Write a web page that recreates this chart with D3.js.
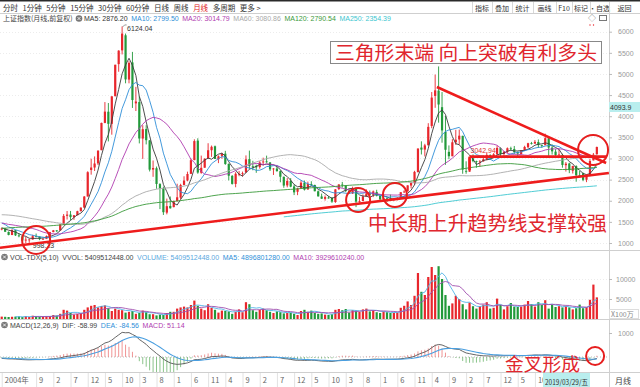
<!DOCTYPE html>
<html>
<head>
<meta charset="utf-8">
<script src="https://cdn.jsdelivr.net/npm/d3@7/dist/d3.min.js"></script>
<style>
  body { margin: 0; background: #fff; }
  svg { display: block; }
  text { font-family: 'Liberation Sans', 'Noto Sans CJK SC', sans-serif; }
  .cjk { font-family: 'Noto Sans CJK SC', sans-serif; }
</style>
</head>
<body>
<div id="chart"></div>
<script>
// monthly closes before the visible window (1990-12 .. 2004-10), only used for the averages
var histClose = [128,
  130,134,120,114,115,138,144,180,180,219,260,293,
  313,365,370,445,1266,1136,1070,823,679,508,750,780,
  1083,1359,926,1358,934,1007,880,882,919,897,921,834,
  770,793,646,556,613,456,334,754,804,595,668,648,
  563,549,643,582,701,631,712,736,793,717,690,555,
  537,537,543,682,644,804,839,797,881,957,1020,917,
  914,1008,1064,1330,1235,1201,1181,1171,1097,1192,1133,1194,
  1223,1207,1243,1343,1411,1339,1321,1151,1243,1217,1247,1147,
  1135,1090,1158,1120,1279,1689,1601,1627,1507,1446,1395,1367,
  1535,1715,1800,1836,1895,1928,2023,2022,1910,1961,2071,2073,
  2066,1959,2113,2119,2214,2218,1920,1834,1724,1690,1748,1646,
  1492,1525,1604,1668,1516,1733,1652,1669,1582,1504,1442,1358,
  1500,1512,1510,1521,1576,1487,1477,1421,1367,1348,1397,1497,
  1591,1675,1742,1596,1556,1399,1386,1342,1397,1321];

// visible window: 2004-11 .. 2019-04
var startYear = 2004, startMonth = 11;
var opens = [1320,1340,
  1261,1189,1304,1180,1158,1059,1079,1083,1163,1153,1091,1099,
  1163,1259,1299,1296,1442,1643,1673,1612,1658,1752,1839,2100,
  2728,2786,2884,3196,3842,4107,3820,4475,5233,5559,5915,4868,
  5273,4304,4335,3472,3696,3428,2738,2769,2394,2294,1719,1876,
  1849,1991,2074,2374,2480,2637,2961,3423,2663,2782,2999,3195,
  3289,2983,3061,3114,2873,2588,2398,2637,2640,2671,2985,2816,
  2825,2796,2908,2932,2907,2743,2762,2700,2567,2363,2470,2339,
  2212,2287,2427,2268,2397,2373,2224,2101,2045,2074,2071,1970,
  2276,2382,2362,2236,2172,2302,1977,1992,2098,2175,2141,2205,
  2112,2044,2057,2033,2021,2040,2051,2202,2220,2359,2424,2677,
  3258,3211,3314,3770,4480,4607,4214,3630,3157,3053,3383,3450,
  3536,2706,2688,3003,2938,2917,2932,2977,3082,3018,3099,3245,
  3105,3159,3240,3225,3155,3106,3193,3266,3363,3352,3390,3315,
  3314,3478,3257,3162,3083,3084,2841,2882,2710,2819,2600,2647,
  2497,2587,2955,3100];
var highs = [1363,1353,
  1274,1329,1313,1232,1160,1146,1099,1194,1223,1156,1109,1180,
  1262,1308,1305,1446,1685,1757,1758,1658,1763,1843,2112,2698,
  2994,3049,3197,3848,4335,4312,4471,5218,5562,6124,5956,5303,
  5522,4695,4472,3786,3786,3435,2952,2809,2416,2334,2051,2100,
  2003,2402,2402,2579,2688,3000,3454,3478,3068,3000,3361,3306,
  3306,3073,3135,3181,2880,2608,2676,2705,2690,3073,3186,2945,
  2854,2937,3019,3067,2911,2772,2826,2717,2572,2536,2536,2387,
  2302,2479,2478,2453,2461,2380,2243,2169,2125,2109,2081,2276,
  2392,2445,2363,2280,2334,2314,2092,2149,2270,2243,2242,2260,
  2118,2177,2075,2146,2061,2087,2202,2248,2366,2449,2708,3239,
  3406,3347,3835,4572,4986,5178,4572,4006,3309,3458,3679,3684,
  3538,2933,3019,3098,2948,2962,3070,3140,3100,3127,3301,3265,
  3175,3261,3279,3296,3164,3200,3301,3371,3392,3436,3450,3322,
  3587,3495,3334,3220,3219,3111,2915,2897,2827,2838,2703,2667,
  2619,2996,3130,3282];
var lows = [1301,1259,
  1181,1186,1165,1135,1043,998,1004,1079,1132,1067,1074,1093,
  1163,1253,1257,1294,1431,1556,1541,1548,1654,1749,1826,2100,
  2617,2704,2845,3196,3834,3404,3563,4469,5052,5462,4779,4778,
  4196,4123,3357,2990,3333,2693,2566,2284,1802,1664,1678,1814,
  1844,1990,2037,2367,2460,2631,2960,2639,2639,2779,2997,3039,
  2987,2890,2994,2849,2481,2382,2319,2580,2573,2661,2754,2721,
  2661,2758,2836,2897,2703,2610,2688,2437,2307,2318,2319,2134,
  2132,2290,2242,2258,2344,2223,2100,2046,2003,2050,1950,1949,
  2253,2311,2203,2162,2162,1849,1951,1994,2097,2124,2086,2102,
  1985,2029,1974,1997,1991,2010,2044,2186,2217,2293,2378,2671,
  3095,3049,3307,3716,4199,3848,3373,2850,2983,3053,3322,3328,
  2638,2639,2685,2911,2781,2807,2925,2961,2968,3009,3085,3056,
  3044,3125,3183,3107,3016,3092,3176,3243,3330,3348,3251,3254,
  3315,3062,3092,3041,3041,2782,2691,2653,2644,2449,2565,2463,
  2440,2580,2954,3090];
var closes = [1341,1266,
  1191,1306,1181,1159,1060,1080,1083,1162,1155,1092,1099,1161,
  1258,1299,1298,1440,1641,1672,1612,1658,1752,1837,2099,2675,
  2786,2881,3183,3841,4109,3820,4471,5218,5552,5955,4871,5262,
  4383,4348,3473,3693,3433,2736,2775,2397,2293,1729,1871,1821,
  1991,2082,2373,2477,2633,2959,3412,2667,2779,2996,3195,3277,
  2989,3051,3110,2870,2592,2398,2638,2638,2656,2979,2820,2808,
  2791,2905,2928,2911,2743,2762,2701,2568,2359,2468,2333,2199,
  2292,2428,2262,2396,2373,2225,2103,2047,2086,2069,1980,2269,
  2385,2365,2236,2177,2301,1979,1994,2098,2175,2141,2220,2116,
  2033,2056,2033,2026,2039,2048,2202,2217,2364,2420,2683,3235,
  3210,3310,3748,4441,4612,4277,3664,3206,3053,3383,3445,3539,
  2738,2688,3004,2938,2917,2930,2979,3085,3005,3100,3250,3104,
  3159,3242,3223,3155,3117,3192,3273,3361,3349,3393,3317,3307,
  3481,3259,3169,3082,3095,2847,2876,2725,2821,2603,2588,2494,
  2585,2941,3091,3271];
// x100万
var volumes = [600,550,
  500,560,600,640,480,700,520,820,680,540,500,700,
  750,1000,850,1300,2300,2100,1500,1100,1250,1400,2300,2900,
  3300,3500,2900,3250,3400,2700,2000,2600,2300,2200,1600,1800,
  2000,1300,1500,2100,1700,1200,1200,900,1100,1000,1500,1800,
  1800,2600,2900,3100,2900,3500,4600,3300,2600,2200,3700,2800,
  2300,1600,2100,2000,1900,1300,1800,2400,1700,4200,3700,2200,
  1800,2300,2600,2200,1800,1500,1900,1700,1400,1500,1600,1300,
  1000,2000,2300,1800,2100,1500,1300,1400,1100,1000,1200,2300,
  2500,2200,2500,1600,2200,2100,1800,2400,2600,1900,2200,1700,
  1500,1900,1700,1500,1500,1600,2800,3300,4400,3500,5800,11500,
  6800,6000,10500,13000,11000,13200,10000,6000,3300,3900,5800,5000,
  3700,2400,4100,3200,2600,3200,3600,4200,2600,2800,5100,3500,
  2400,3200,4000,3100,3000,3100,3600,4500,3700,3100,4200,3500,
  4700,2600,3600,3000,3200,2900,3200,2900,2400,2700,3600,2700,
  3000,4800,8600,5410];

var maPeriods = [5, 10, 20, 60, 120, 250];
var maValues = ['2876.20', '2799.50', '3014.79', '3080.86', '2790.54', '2354.39'];
var priceTicks = [1000, 1500, 2000, 2500, 3000, 3500, 4000, 4500, 5000, 5500, 6000];
var volTicks = [5000, 10000];
var macdTicks = [1000];
var periodTabs = ['分时', '1分钟', '5分钟', '15分钟', '30分钟', '60分钟', '日线', '周线', '月线', '多周期', '更多 >'];
var toolButtons = ['指标', '叠加', '统计', '画线', 'F10', '标记', '·自选', '返回'];

// hand drawn marks, in (month index, price)
var trendLine = [[-0.5, 889], [176.5, 2656]];
var triangleTop = [[126.5, 4691], [175.7, 2893]];
var boxLevel = 3042.94;
var boxSpan = [136, 175.7];
var rings = [[10, 1071], [103.6, 2017], [114.3, 2136], [171.9, 3201]];

var W = 640, H = 387, axisX = 609;
var red = '#e8262c', green = '#22993a';
var maColors = ['#3a3a3a', '#2f8fd8', '#b03cb0', '#a9a9a9', '#3a9a3a', '#3cc6cf'];

var svg = d3.select('#chart').append('svg').attr('width', W).attr('height', H);
var n = closes.length;
var off = histClose.length;
var allClose = histClose.concat(closes);

var x = d3.scaleLinear().domain([-0.5, n - 0.5]).range([0, n * 3.44]);
var y = d3.scaleLinear().domain([1000, 6000]).range([243, 31.7]);
var yv = d3.scaleLinear().domain([0, 10000]).range([319, 279]);
var ym = d3.scaleLinear().domain([0, 1000]).range([357, 333]);

function movingAvg(arr, p, shift) {
  return d3.range(n).map(function (i) {
    var k = i + shift;
    if (k < p - 1) return null;
    return d3.mean(arr.slice(k - p + 1, k + 1));
  });
}

// MACD(12,26,9)
var e12, e26, dea, dif = [], deaArr = [], hist = [];
allClose.forEach(function (c, k) {
  if (k === 0) { e12 = c; e26 = c; dea = 0; }
  else { e12 = e12 * 11 / 13 + c * 2 / 13; e26 = e26 * 25 / 27 + c * 2 / 27; }
  var d = e12 - e26;
  dea = k === 0 ? 0 : dea * 0.8 + d * 0.2;
  if (k >= off) { dif.push(d); deaArr.push(dea); hist.push(2 * (d - dea)); }
});

var defs = svg.append('defs');
defs.append('clipPath').attr('id', 'cMain').append('rect').attr('x', 0).attr('y', 14).attr('width', axisX).attr('height', 236);
defs.append('clipPath').attr('id', 'cVol').append('rect').attr('x', 0).attr('y', 262).attr('width', axisX).attr('height', 57);
defs.append('clipPath').attr('id', 'cMacd').append('rect').attr('x', 0).attr('y', 330).attr('width', axisX).attr('height', 42);

// toolbar
svg.append('rect').attr('x', 0).attr('y', 0).attr('width', W).attr('height', 1.5).attr('fill', '#2a2a2a');
var tx = 3;
periodTabs.forEach(function (t) {
  var el = svg.append('text').attr('class', 'cjk').attr('x', tx).attr('y', 10.5)
    .attr('font-size', 7.5).attr('fill', t === '月线' ? '#e02020' : '#333').text(t);
  tx += el.node().getComputedTextLength() + 4.6;
});
var bx = [472, 492, 512, 533, 556, 572, 590, 609, 640];
toolButtons.forEach(function (t, i) {
  svg.append('line').attr('x1', bx[i] + 0.5).attr('x2', bx[i] + 0.5).attr('y1', 2).attr('y2', 13).attr('stroke', '#d8d8d8');
  svg.append('text').attr('class', 'cjk').attr('x', (bx[i] + bx[i + 1]) / 2).attr('y', 10.5)
    .attr('text-anchor', 'middle').attr('font-size', 7).attr('fill', '#333').text(t);
});
svg.append('line').attr('x1', 0).attr('x2', W).attr('y1', 13.5).attr('y2', 13.5).attr('stroke', '#cfcfcf');

function closeIcon(cxp, cyp) {
  svg.append('circle').attr('cx', cxp).attr('cy', cyp).attr('r', 3.3).attr('fill', '#777');
  svg.append('path').attr('d', 'M' + (cxp - 1.5) + ',' + (cyp - 1.5) + 'l3,3m0,-3l-3,3')
    .attr('stroke', '#fff').attr('stroke-width', 0.8);
}

function headerRow(yPos, x0, items) {
  var xPos = x0;
  items.forEach(function (it) {
    var t = svg.append('text').attr('x', xPos).attr('y', yPos).attr('font-size', 7).attr('fill', it[1]).text(it[0]);
    xPos += t.node().getComputedTextLength() + 3.6;
  });
}

svg.append('text').attr('class', 'cjk').attr('x', 3).attr('y', 21).attr('font-size', 7).attr('fill', '#444').text('上证指数(月线,前复权)');
closeIcon(79, 18.5);
headerRow(21, 84, maPeriods.map(function (p, i) {
  return ['MA' + p + ': ' + maValues[i], i === 0 ? '#333' : maColors[i]];
}));
svg.append('text').attr('x', 588).attr('y', 21).attr('font-size', 8).attr('fill', '#777').text('◇');
svg.append('rect').attr('x', 599.5).attr('y', 15.5).attr('width', 7).attr('height', 5).attr('fill', 'none').attr('stroke', '#777');
svg.append('circle').attr('cx', 590).attr('cy', 25).attr('r', 0.7).attr('fill', red);
svg.append('circle').attr('cx', 593.5).attr('cy', 25).attr('r', 0.7).attr('fill', red);

// grid
var grid = svg.append('g');
priceTicks.forEach(function (v) {
  grid.append('line').attr('x1', 0).attr('x2', axisX).attr('y1', Math.round(y(v)) + 0.5).attr('y2', Math.round(y(v)) + 0.5)
    .attr('stroke', '#ececec').attr('stroke-dasharray', '1,2');
});

// panel frames
[250.5, 319.5, 372.5].forEach(function (yy) {
  svg.append('line').attr('x1', 0).attr('x2', W).attr('y1', yy).attr('y2', yy).attr('stroke', '#cfcfcf');
});
svg.append('line').attr('x1', axisX + 0.5).attr('x2', axisX + 0.5).attr('y1', 14).attr('y2', H).attr('stroke', '#cfcfcf');

// candles
var main = svg.append('g').attr('clip-path', 'url(#cMain)');
var cand = main.selectAll('g.c').data(d3.range(n)).enter().append('g').attr('class', 'c');
cand.append('line')
  .attr('x1', function (i) { return x(i); }).attr('x2', function (i) { return x(i); })
  .attr('y1', function (i) { return y(highs[i]); }).attr('y2', function (i) { return y(lows[i]); })
  .attr('stroke', function (i) { return closes[i] >= opens[i] ? red : green; }).attr('stroke-width', 0.9);
cand.append('rect')
  .attr('x', function (i) { return x(i) - 1.1; }).attr('width', 2.2)
  .attr('y', function (i) { return y(Math.max(opens[i], closes[i])); })
  .attr('height', function (i) { return Math.max(0.8, Math.abs(y(opens[i]) - y(closes[i]))); })
  .attr('fill', function (i) { return closes[i] >= opens[i] ? red : green; });

// moving averages
var maLine = d3.line().defined(function (d) { return d != null; })
  .x(function (d, i) { return x(i); }).y(function (d) { return y(d); });
maPeriods.forEach(function (p, k) {
  main.append('path').datum(movingAvg(allClose, p, off)).attr('d', maLine)
    .attr('fill', 'none').attr('stroke', maColors[k]).attr('stroke-width', 0.9);
});

// high / low labels
var hi = d3.maxIndex(highs), lo = d3.minIndex(lows);
main.append('path').attr('d', 'M' + (x(hi) + 0.5) + ',' + (y(highs[hi]) + 0.5) + 'l2,-2l2,0').attr('stroke', '#555').attr('fill', 'none').attr('stroke-width', 0.6);
main.append('text').attr('x', x(hi) + 5).attr('y', y(highs[hi]) + 5).attr('font-size', 7).attr('fill', '#333').text(d3.format('.2f')(6124.04));
main.append('text').attr('x', x(lo) + 7).attr('y', y(lows[lo]) + 4.5).attr('font-size', 7).attr('fill', '#333').text(d3.format('.2f')(998.23));

// price axis
function styleAxis(g) {
  g.select('.domain').remove();
  g.selectAll('line').attr('stroke', '#bbb');
  g.selectAll('text').attr('fill', '#999').attr('font-size', 7).attr('font-family', 'Liberation Sans');
}
var ya = svg.append('g').attr('transform', 'translate(' + axisX + ',0)')
  .call(d3.axisRight(y).tickValues(priceTicks).tickSize(3).tickPadding(6).tickFormat(d3.format('d')));
styleAxis(ya);
svg.append('rect').attr('x', 609).attr('y', 102).attr('width', 31).attr('height', 10).attr('fill', '#b9eeee');
svg.append('text').attr('x', 610).attr('y', 110).attr('font-size', 7).attr('fill', '#333').text('4093.9');

// volume
closeIcon(4.5, 257);
headerRow(260, 10, [['VOL-TDX(5,10)', '#444'], ['VVOL: 5409512448.00', '#444'], ['VOLUME: 5409512448.00', '#5aa8e0'],
  ['MA5: 4896801280.00', '#2f8fd8'], ['MA10: 3929610240.00', '#b03cb0']]);
volTicks.forEach(function (v) {
  svg.append('line').attr('x1', 0).attr('x2', axisX).attr('y1', Math.round(yv(v)) + 0.5).attr('y2', Math.round(yv(v)) + 0.5)
    .attr('stroke', '#ececec').attr('stroke-dasharray', '1,2');
});
var vol = svg.append('g').attr('clip-path', 'url(#cVol)');
vol.selectAll('rect').data(d3.range(n)).enter().append('rect')
  .attr('x', function (i) { return x(i) - 1.1; }).attr('width', 2.2)
  .attr('y', function (i) { return yv(volumes[i]); })
  .attr('height', function (i) { return yv(0) - yv(volumes[i]); })
  .attr('fill', function (i) { return closes[i] >= opens[i] ? red : green; });
var vLine = d3.line().defined(function (d) { return d != null; })
  .x(function (d, i) { return x(i); }).y(function (d) { return yv(d); });
vol.append('path').datum(movingAvg(volumes, 5, 0)).attr('d', vLine).attr('fill', 'none').attr('stroke', '#4fb3e8').attr('stroke-width', 0.9);
vol.append('path').datum(movingAvg(volumes, 10, 0)).attr('d', vLine).attr('fill', 'none').attr('stroke', '#a050b0').attr('stroke-width', 0.9);
var va = svg.append('g').attr('transform', 'translate(' + axisX + ',0)')
  .call(d3.axisRight(yv).tickValues(volTicks).tickSize(3).tickPadding(4).tickFormat(d3.format('d')));
styleAxis(va);
svg.append('rect').attr('x', 609.5).attr('y', 309.5).attr('width', 29).attr('height', 9).attr('fill', '#fff').attr('stroke', '#ddd');
svg.append('text').attr('class', 'cjk').attr('x', 611).attr('y', 317).attr('font-size', 7).attr('fill', '#888').text('X100万');

// MACD
closeIcon(4.5, 325);
headerRow(328, 10, [['MACD(12,26,9)', '#444'], ['DIF: -58.99', '#444'], ['DEA: -84.56', '#2f8fd8'], ['MACD: 51.14', '#b03cb0']]);
var mac = svg.append('g').attr('clip-path', 'url(#cMacd)');
mac.append('line').attr('x1', 0).attr('x2', axisX).attr('y1', ym(0)).attr('y2', ym(0)).attr('stroke', '#bbb').attr('stroke-dasharray', '1,2');
mac.selectAll('line.h').data(d3.range(n)).enter().append('line').attr('class', 'h')
  .attr('x1', function (i) { return x(i); }).attr('x2', function (i) { return x(i); })
  .attr('y1', ym(0)).attr('y2', function (i) { return ym(hist[i]); })
  .attr('stroke', function (i) { return hist[i] >= 0 ? '#ec7a7a' : '#6db56d'; }).attr('stroke-width', 0.8);
var mLine = d3.line().x(function (d, i) { return x(i); }).y(function (d) { return ym(d); });
mac.append('path').datum(dif).attr('d', mLine).attr('fill', 'none').attr('stroke', '#555').attr('stroke-width', 0.9);
mac.append('path').datum(deaArr).attr('d', mLine).attr('fill', 'none').attr('stroke', '#4a9fe0').attr('stroke-width', 1.1);
var ma2 = svg.append('g').attr('transform', 'translate(' + axisX + ',0)')
  .call(d3.axisRight(ym).tickValues(macdTicks).tickSize(3).tickPadding(6).tickFormat(d3.format('d')));
styleAxis(ma2);

// time axis, labels under the date box are hidden
var labelIdx = [0].concat(d3.range(10, n, 5)).filter(function (i) { return x(i) < 538; });
var xAxis = d3.axisBottom(x).tickValues(labelIdx).tickSize(14)
  .tickFormat(function (i) { return i === 0 ? startYear + '年' : String((startMonth - 1 + i) % 12 + 1); });
var xa = svg.append('g').attr('transform', 'translate(0,373)').call(xAxis);
xa.select('.domain').remove();
xa.selectAll('line').attr('stroke', '#e2e2e2');
xa.selectAll('text').attr('x', 2.5).attr('y', 5).attr('dy', '0.71em').attr('text-anchor', 'start')
  .attr('fill', '#666').attr('font-size', 7.5).attr('class', 'cjk');
svg.append('rect').attr('x', 543).attr('y', 373).attr('width', 47).attr('height', 14).attr('fill', '#b9eeee');
svg.append('text').attr('class', 'cjk').attr('x', 545).attr('y', 384.5).attr('font-size', 7.5).attr('fill', '#333')
  .attr('textLength', 43).attr('lengthAdjust', 'spacingAndGlyphs').text('2019/03/29/五');
svg.append('text').attr('class', 'cjk').attr('x', 615).attr('y', 384).attr('font-size', 8).attr('fill', '#444').text('月线');

// hand drawn annotations
var ann = svg.append('g');
var seg = d3.line().x(function (d) { return x(d[0]); }).y(function (d) { return y(d[1]); });
[trendLine, triangleTop, [[boxSpan[0], boxLevel], [boxSpan[1], boxLevel]], [[boxSpan[0], boxLevel], [boxSpan[0], 2727]]]
  .forEach(function (pts) {
    ann.append('path').attr('d', seg(pts)).attr('stroke', '#ee1c1c').attr('stroke-width', 2.6).attr('fill', 'none');
  });
var ringR = [14, 12, 12, 15];
rings.forEach(function (r, i) {
  ann.append('circle').attr('cx', x(r[0])).attr('cy', y(r[1])).attr('r', ringR[i])
    .attr('fill', 'none').attr('stroke', '#e61e1e').attr('stroke-width', 2);
});
ann.append('circle').attr('cx', x(172.5)).attr('cy', ym(42)).attr('r', 9)
  .attr('fill', 'none').attr('stroke', '#e61e1e').attr('stroke-width', 2);
main.append('text').attr('x', x(boxSpan[0]) + 1).attr('y', y(boxLevel) - 3.5).attr('font-size', 7).attr('fill', '#d33').text(boxLevel);

ann.append('rect').attr('x', 330.5).attr('y', 41.5).attr('width', 271).attr('height', 22).attr('fill', '#fff').attr('stroke', '#888');
ann.append('text').attr('class', 'cjk').attr('x', 335).attr('y', 59.5).attr('font-size', 19).attr('fill', '#e0262e')
  .attr('textLength', 262).attr('lengthAdjust', 'spacingAndGlyphs').text('三角形末端  向上突破有利多头');
ann.append('text').attr('class', 'cjk').attr('x', 368).attr('y', 230.5).attr('font-size', 20).attr('fill', '#e0262e')
  .attr('textLength', 239).attr('lengthAdjust', 'spacingAndGlyphs').text('中长期上升趋势线支撑较强');
ann.append('text').attr('class', 'cjk').attr('x', 505).attr('y', 370.5).attr('font-size', 18.5).attr('fill', '#e0262e')
  .attr('textLength', 75).attr('lengthAdjust', 'spacingAndGlyphs').text('金叉形成');
</script>
</body>
</html>
